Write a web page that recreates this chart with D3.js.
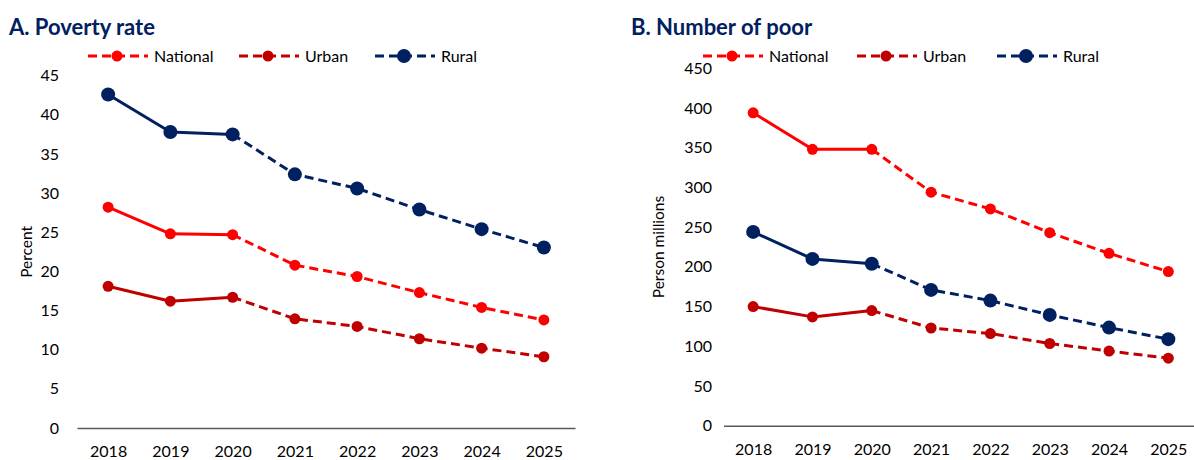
<!DOCTYPE html>
<html><head><meta charset="utf-8">
<script src="https://cdn.jsdelivr.net/npm/d3@7"></script>
<style>
body{margin:0;background:#fff;}
svg{display:block;font-family:Lato, "Open Sans", sans-serif;}
</style></head>
<body><svg id="c" width="1194" height="460"></svg>
<script>
const years = ["2018","2019","2020","2021","2022","2023","2024","2025"];
const seriesNames = ["National","Urban","Rural"];
const rateNational = [28.2,24.8,24.7,20.8,19.35,17.3,15.4,13.8];
const rateUrban    = [18.1,16.2,16.7,13.95,12.97,11.4,10.2,9.1];
const rateRural    = [42.6,37.8,37.5,32.4,30.6,27.9,25.4,23.05];
const poorNational = [394,348,348,294,273,243,217,194];
const poorUrban    = [150,137,145,123,116,103.5,94,85];
const poorRural    = [244,210,204,171,157.5,139.5,123.5,109];
const rateTicks = [0,5,10,15,20,25,30,35,40,45];
const poorTicks = [0,50,100,150,200,250,300,350,400,450];

const colors = {National:"#FF0000", Urban:"#C00000", Rural:"#002060"};
const radius = {National:5.5, Urban:5.5, Rural:7};
const solidUpTo = 2; // index of last actual year (2020)

const svg = d3.select("#c");

function panel(opt){
  const g = svg.append("g");
  const x = d3.scalePoint().domain(years).range([opt.x0,opt.x1]).padding(0.5);
  const y = d3.scaleLinear().domain([0,opt.max]).range([opt.y0,opt.y1]);
  // title
  g.append("text").attr("x",opt.tx).attr("y",35).text(opt.title)
    .attr("font-weight","bold").attr("font-size",22).attr("fill","#002060");
  // y axis labels
  const ya = d3.axisLeft(y).tickValues(opt.ticks).tickSize(0).tickPadding(0);
  const yg = g.append("g").attr("transform",`translate(${opt.ylx},0)`).call(ya);
  yg.select(".domain").remove();
  yg.selectAll("text").attr("font-size",16).attr("fill","#000").attr("font-family","Lato, sans-serif");
  // x axis
  const xa = d3.axisBottom(x).tickSize(0).tickPadding(18);
  const xg = g.append("g").attr("transform",`translate(0,${opt.y0})`).call(xa);
  xg.select(".domain").attr("stroke","#595959").attr("stroke-width",1.5);
  xg.selectAll("text").attr("font-size",16).attr("fill","#000").attr("font-family","Lato, sans-serif");
  // y title
  g.append("text").attr("transform",`translate(${opt.ytx},${(opt.y0+opt.y1)/2}) rotate(-90)`)
    .attr("text-anchor","middle").attr("font-size",15.5).attr("fill","#000").text(opt.ytitle);
  // series
  opt.data.forEach((vals,i)=>{
    const name = seriesNames[i];
    const pts = vals.map((v,j)=>[x(years[j]),y(v)]);
    const line = d3.line();
    g.append("path").attr("d",line(pts.slice(0,solidUpTo+1))).attr("fill","none")
      .attr("stroke",colors[name]).attr("stroke-width",3).attr("stroke-linejoin","round");
    g.append("path").attr("d",line(pts.slice(solidUpTo))).attr("fill","none")
      .attr("stroke",colors[name]).attr("stroke-width",3).attr("stroke-dasharray","9,5");
    g.selectAll(null).data(vals).enter().append("circle")
      .attr("cx",(d,j)=>x(years[j])).attr("cy",d=>y(d)).attr("r",radius[name])
      .attr("fill",colors[name]);
  });
  // legend
  opt.legend.forEach((lx,i)=>{
    const name = seriesNames[i];
    const lg = g.append("g").attr("transform",`translate(${lx},56)`);
    lg.append("line").attr("x1",0).attr("x2",60).attr("y1",0).attr("y2",0)
      .attr("stroke",colors[name]).attr("stroke-width",3).attr("stroke-dasharray","9,5");
    lg.append("circle").attr("cx",29).attr("cy",0).attr("r",radius[name]).attr("fill",colors[name]);
    lg.append("text").attr("x",66).attr("y",5.5).attr("font-size",16).attr("fill","#000").text(name);
  });
}

panel({title:"A. Poverty rate", tx:9, x0:77, x1:575, y0:428, y1:75.7, max:45,
  ticks:rateTicks, ylx:59, ytx:32, ytitle:"Percent",
  data:[rateNational,rateUrban,rateRural], legend:[88,239,375]});
panel({title:"B. Number of poor", tx:631, x0:723.5, x1:1198, y0:425.7, y1:68.3, max:450,
  ticks:poorTicks, ylx:712, ytx:664, ytitle:"Person millions",
  data:[poorNational,poorUrban,poorRural], legend:[703,857,997]});
</script></body></html>
